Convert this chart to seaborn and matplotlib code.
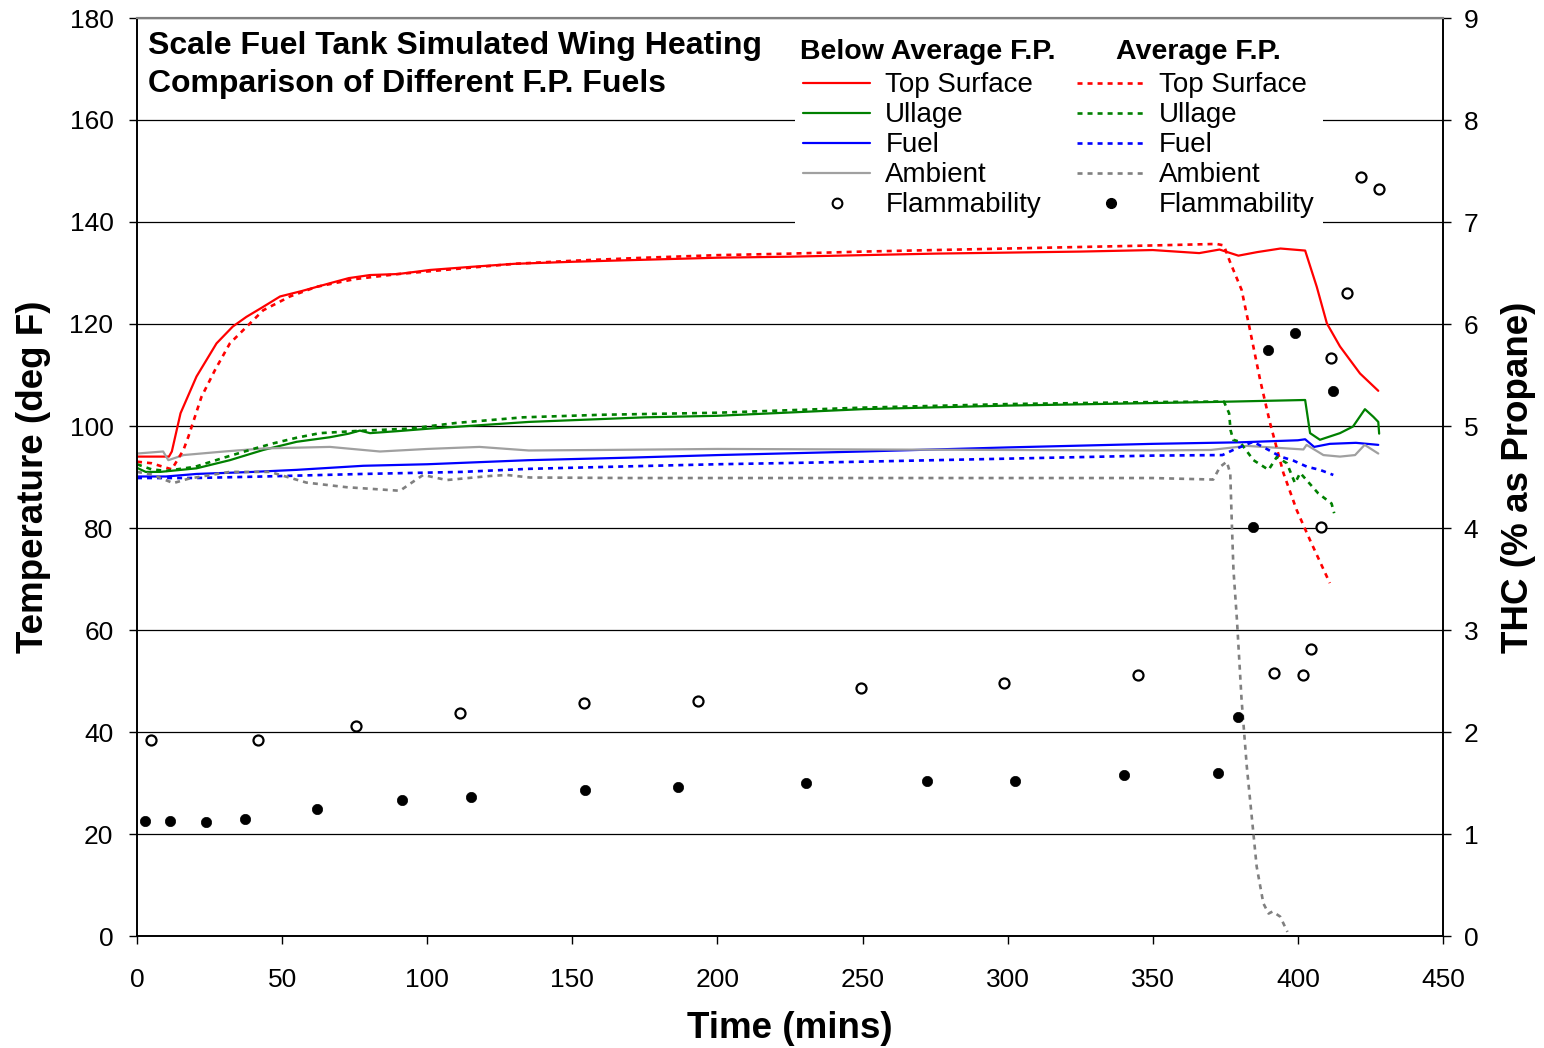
import numpy as np
import pandas as pd
import matplotlib
matplotlib.use("Agg")
import matplotlib.pyplot as plt
import seaborn as sns
from matplotlib.lines import Line2D

# ---------------- data ----------------
# Below Average F.P. (solid lines)
t_top_below = [0, 11, 12, 15, 20.5, 27.4, 33, 37.7, 43, 49.3, 57, 66.5, 73, 80.3, 90, 101, 115, 130, 150,
               175, 200, 225, 250, 275, 300, 325, 350, 366, 373, 379.5, 386, 394, 402.5, 406.5, 410,
               414.5, 421.4, 427.7]
top_below = [94, 94, 95, 102.5, 109.7, 116.2, 119.5, 121.4, 123.2, 125.4, 126.5, 128, 129, 129.6, 129.8,
             130.6, 131.2, 131.8, 132.2, 132.6, 133, 133.2, 133.5, 133.8, 134, 134.2, 134.5, 133.9, 134.6,
             133.4, 134.1, 134.8, 134.4, 127.3, 120.1, 115.6, 110.3, 106.9]

t_ull_below = [0, 3, 8, 20.5, 32, 43.5, 55, 66.5, 73, 76.8, 80.3, 90, 101, 135, 175, 200, 250, 300, 350,
               370, 402.5, 404.2, 407.6, 414.5, 419, 423.1, 426, 427.7, 428]
ull_below = [91.8, 91, 91, 91.7, 93.3, 95.3, 96.9, 97.8, 98.5, 99.1, 98.6, 99, 99.5, 100.8, 101.7, 102,
             103.3, 104, 104.5, 104.7, 105.1, 98.6, 97.3, 98.6, 99.9, 103.3, 101.8, 100.8, 98.5]

t_fuel_below = [0, 10, 20.5, 40, 55, 78, 100, 135, 170, 200, 250, 300, 350, 380, 400, 402.5, 405.6, 411,
                420, 427.7]
fuel_below = [90.1, 90.1, 90.6, 91.0, 91.4, 92.2, 92.5, 93.3, 93.8, 94.3, 95, 95.8, 96.5, 96.8, 97.2,
              97.4, 95.9, 96.5, 96.7, 96.3]

t_amb_below = [0, 9, 10.8, 16, 30, 43.5, 66.5, 83.7, 100, 118, 135, 160, 200, 250, 300, 350, 370, 382.4,
               401.9, 403, 408.8, 414.5, 419.7, 423, 427.7]
amb_below = [94.6, 95, 93.3, 94.3, 95, 95.6, 95.9, 95, 95.5, 95.9, 95.2, 95.3, 95.5, 95.4, 95.3, 95.2,
             95.3, 96.1, 95.4, 96.3, 94.3, 94, 94.3, 96.3, 94.6]

# Average F.P. (dotted lines)
t_top_avg = [0, 5, 9, 12, 16, 17.7, 22.2, 26.9, 32, 36.6, 43.5, 52.7, 61.9, 75, 90, 110, 130, 150, 175,
             200, 225, 250, 275, 300, 325, 350, 372, 374.5, 376.6, 380.6, 383.5, 387, 390.4, 395, 399.6,
             404.2, 411]
top_avg = [93, 92.7, 92, 91.5, 95.3, 97.9, 105.7, 111, 116.2, 118.8, 122.7, 125.4, 127.3, 128.8, 129.8,
           130.8, 131.8, 132.4, 133, 133.5, 133.8, 134.2, 134.5, 134.8, 135.1, 135.4, 135.7, 135.4, 132.2,
           126.7, 118.8, 109, 100.6, 90.8, 83.5, 77.6, 69.2]

t_ull_avg = [0, 5, 10, 20, 30, 40, 47, 55, 63, 75, 94, 110, 133, 160, 200, 250, 300, 350, 374.5, 376.3,
             376.8, 377.7, 380, 384.7, 389.9, 392.7, 396.2, 399, 400.8, 407, 411.6, 412.5]
ull_avg = [92.5, 91.5, 91.2, 92, 93.8, 95.5, 96.6, 97.7, 98.6, 99, 99.5, 100.6, 101.7, 102.2, 102.6,
           103.6, 104.3, 104.7, 104.8, 102.5, 99.2, 97.3, 96.9, 93.3, 91.4, 93.9, 92.7, 88.8, 90.8, 86.8,
           84.8, 82.9]

t_fuel_avg = [0, 20, 43.5, 78, 112, 135, 170, 200, 250, 300, 350, 374, 377.7, 384.6, 389.9, 394, 398.5,
              403.2, 407.6, 412.2]
fuel_avg = [89.8, 89.8, 90.1, 90.6, 91, 91.6, 92.1, 92.5, 93, 93.6, 94.2, 94.3, 95.3, 96.9, 95.3, 94,
            93.2, 92, 91.4, 90.4]

t_amb_avg = [0, 5, 12.5, 18, 32, 45.8, 58.4, 72.2, 90.6, 95.2, 98.6, 106.7, 121.6, 127.4, 135.4, 170,
             200, 250, 300, 350, 370.8, 373.2, 375.5, 376.7, 377.2, 377.8, 379, 380.6, 382.4, 384.1,
             385.8, 388.1, 389.9, 391.3, 393.9, 396.4]
amb_avg = [91, 90.5, 88.8, 89.7, 91, 91, 88.9, 88, 87.3, 89.1, 90.4, 89.4, 90.2, 90.4, 89.9, 89.8, 89.8,
           89.8, 89.8, 89.8, 89.5, 92, 93, 90.7, 81.6, 71.8, 62, 46.3, 33.2, 23.4, 13.6, 6.4, 4.4, 4.8,
           3.8, 0.8]

# Flammability (THC, % as propane) - right axis
t_flam_below = [4.8, 41.7, 75.5, 111.3, 154, 193.3, 249.5, 298.8, 345, 391.8, 401.8, 404.6, 408, 411.5,
                417, 421.8, 428]
thc_below = [1.92, 1.92, 2.06, 2.19, 2.28, 2.30, 2.43, 2.48, 2.56, 2.58, 2.56, 2.81, 4.01, 5.67, 6.30,
             7.44, 7.32]

t_flam_avg = [2.8, 11.4, 23.8, 37.2, 62, 91.3, 115, 154.4, 186.4, 230.5, 272.2, 302.5, 340, 372.5,
              379.3, 384.6, 389.7, 399, 412.1]
thc_avg = [1.13, 1.13, 1.12, 1.15, 1.25, 1.33, 1.36, 1.43, 1.46, 1.50, 1.52, 1.52, 1.58, 1.60, 2.15,
           4.01, 5.75, 5.91, 5.34]

x_ticks = list(range(0, 451, 50))
y_ticks = list(range(0, 181, 20))
y2_ticks = list(range(0, 10))

series_labels = ["Top Surface", "Ullage", "Fuel", "Ambient", "Flammability"]

# ---------------- plotting ----------------
sns.set_theme(style="ticks")
plt.rcParams['font.family'] = ['Liberation Sans', 'DejaVu Sans']
plt.rcParams['text.color'] = 'black'
plt.rcParams['axes.labelcolor'] = 'black'
plt.rcParams['xtick.color'] = 'black'
plt.rcParams['ytick.color'] = 'black'

W, H = 1544, 1048
fig = plt.figure(figsize=(W / 100, H / 100), dpi=100)
ax = fig.add_axes([137 / W, 1 - 936 / H, 1306 / W, 918 / H])
ax2 = ax.twinx()

RED, GREEN, BLUE = '#FF0000', '#008000', '#0000FF'
GRAY_S, GRAY_D = '#A0A0A0', '#808080'
solid_lw = 1.6
dot_lw = 1.9
dot_ls = (0, (1.9, 1.9))

solid_series = [(t_top_below, top_below, RED), (t_ull_below, ull_below, GREEN),
                (t_fuel_below, fuel_below, BLUE), (t_amb_below, amb_below, GRAY_S)]
dot_series = [(t_top_avg, top_avg, RED), (t_ull_avg, ull_avg, GREEN),
              (t_fuel_avg, fuel_avg, BLUE), (t_amb_avg, amb_avg, GRAY_D)]

for t, v, c in solid_series:
    sns.lineplot(x=t, y=v, ax=ax, color=c, linewidth=solid_lw, estimator=None, sort=False, legend=False)
for t, v, c in dot_series:
    sns.lineplot(x=t, y=v, ax=ax, color=c, linewidth=dot_lw, linestyle=dot_ls, estimator=None,
                 sort=False, legend=False)

sns.scatterplot(x=t_flam_below, y=thc_below, ax=ax2, marker='o', s=52, color='white',
                edgecolor='black', linewidth=1.6, legend=False, zorder=5)
sns.scatterplot(x=t_flam_avg, y=thc_avg, ax=ax2, marker='o', s=55, color='black',
                edgecolor='black', linewidth=0.5, legend=False, zorder=5)

ax.set_xlim(0, 450)
ax.set_ylim(0, 180)
ax2.set_ylim(0, 9)
ax.set_xticks(x_ticks)
ax.set_yticks(y_ticks)
ax2.set_yticks(y2_ticks)

ax.grid(axis='y', color='black', linewidth=0.9)
ax.grid(axis='x', visible=False)
ax2.grid(False)

for a in (ax, ax2):
    for s in ('left', 'right', 'bottom'):
        a.spines[s].set_color('black')
        a.spines[s].set_linewidth(1.2)
    a.spines['top'].set_visible(True)
    a.spines['top'].set_color('#808080')
    a.spines['top'].set_linewidth(1.5)

ax.tick_params(axis='x', direction='out', length=6, width=1, labelsize=19, pad=17, color='black',
               labelcolor='black')
ax.tick_params(axis='y', direction='out', length=6, width=1, labelsize=19, pad=11, color='black',
               labelcolor='black')
ax2.tick_params(axis='y', direction='out', length=6, width=1, labelsize=19, pad=9, color='black',
                labelcolor='black')

ax.set_xlabel("Time (mins)", fontsize=26.5, fontweight='bold', labelpad=14, color='black')
ax.set_ylabel("Temperature (deg F)", fontsize=26.5, fontweight='bold', labelpad=13, color='black')
ax2.set_ylabel("THC (% as Propane)", fontsize=26.5, fontweight='bold', labelpad=16, rotation=90,
               color='black')

# Title inside plot
fig.text(148 / W, 1 - 31 / H, "Scale Fuel Tank Simulated Wing Heating\nComparison of Different F.P. Fuels",
         ha='left', va='top', fontsize=23, fontweight='bold', linespacing=1.36, color='black')

# Legend
handles = [Line2D([], [], color=RED, lw=solid_lw), Line2D([], [], color=GREEN, lw=solid_lw),
           Line2D([], [], color=BLUE, lw=solid_lw), Line2D([], [], color=GRAY_S, lw=solid_lw),
           Line2D([], [], ls='none', marker='o', markersize=7, mfc='white', mec='black', mew=1.5),
           Line2D([], [], color=RED, lw=dot_lw, ls=dot_ls), Line2D([], [], color=GREEN, lw=dot_lw, ls=dot_ls),
           Line2D([], [], color=BLUE, lw=dot_lw, ls=dot_ls), Line2D([], [], color=GRAY_D, lw=dot_lw, ls=dot_ls),
           Line2D([], [], ls='none', marker='o', markersize=7, mfc='black', mec='black')]
labels = series_labels + series_labels
leg = ax2.legend(handles, labels, ncol=2, loc='upper left', bbox_to_anchor=(0.5039, 0.9499),
                 bbox_transform=ax.transAxes, fontsize=20, frameon=True, facecolor='white',
                 edgecolor='none', framealpha=1, fancybox=False, handlelength=2.4, handletextpad=0.55,
                 columnspacing=1.3, labelspacing=0.145, borderpad=0.3, borderaxespad=0, numpoints=1)
leg.set_zorder(10)
for txt in leg.get_texts():
    txt.set_color('black')

fig.text(800 / W, 1 - 52 / H, "Below Average F.P.", ha='left', va='center', fontsize=20.5,
         fontweight='bold', color='black')
fig.text(1116 / W, 1 - 52 / H, "Average F.P.", ha='left', va='center', fontsize=20.5,
         fontweight='bold', color='black')

fig.savefig("out.png", dpi=100, facecolor='white')
